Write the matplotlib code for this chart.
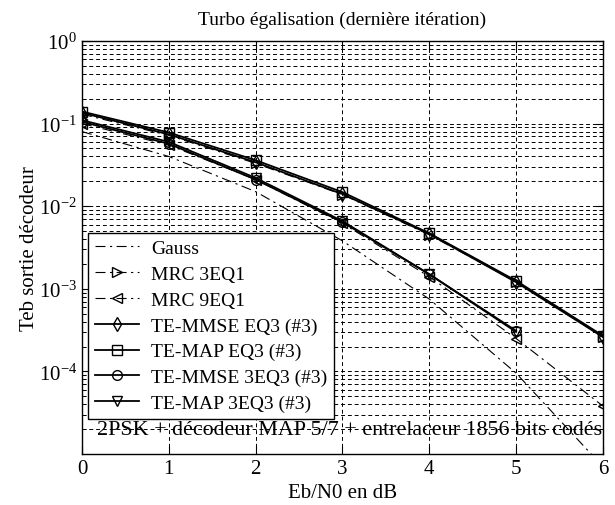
import matplotlib
matplotlib.use("Agg")
import matplotlib.pyplot as plt
from matplotlib.ticker import LogLocator, NullFormatter

plt.rcParams['font.family'] = ['Liberation Serif', 'DejaVu Serif']
plt.rcParams['mathtext.fontset'] = 'custom'
plt.rcParams['mathtext.rm'] = 'Liberation Serif'

# Eb/N0 (dB)
snr = [0, 1, 2, 3, 4, 5, 6]
snr5 = [0, 1, 2, 3, 4, 5]

# BER values
gauss = [0.08, 0.04, 0.015, 3.8e-3, 7.5e-4, 9.5e-5, 7e-6]
mrc_3eq1 = [0.13, 0.072, 0.033, 0.0138, 0.0045, 0.00122, 0.00026]
mrc_9eq1 = [0.1, 0.055, 0.021, 0.0062, 0.0014, 0.00025, 3.8e-5]
te_mmse_eq3 = [0.135, 0.074, 0.034, 0.014, 0.0046, 0.0012, 0.00026]
te_map_eq3 = [0.14, 0.078, 0.036, 0.0148, 0.0047, 0.00125, 0.00027]
te_mmse_3eq3 = [0.105, 0.057, 0.021, 0.0064, 0.0015, 0.00031]
te_map_3eq3 = [0.11, 0.06, 0.022, 0.0066, 0.0015, 0.0003]

labels = ["Gauss", "MRC 3EQ1", "MRC 9EQ1", "TE-MMSE EQ3 (#3)",
          "TE-MAP EQ3 (#3)", "TE-MMSE 3EQ3 (#3)", "TE-MAP 3EQ3 (#3)"]

fig = plt.figure(figsize=(6.15, 5.06), dpi=100)
ax = fig.add_axes([0.1333, 0.1008, 0.8472, 0.8162])

dashdot = (0, (9, 4, 2, 4))
common = dict(color='black', markerfacecolor='none', markersize=7, markeredgewidth=1.0)

ax.plot(snr, gauss, linestyle=dashdot, linewidth=0.8, color='black', label=labels[0])
ax.plot(snr, mrc_3eq1, linestyle=dashdot, linewidth=0.8, marker='>', label=labels[1], **common)
ax.plot(snr, mrc_9eq1, linestyle=dashdot, linewidth=0.8, marker='<', label=labels[2], **common)
ax.plot(snr, te_mmse_eq3, linestyle='-', linewidth=1.3, marker='d', label=labels[3], **common)
ax.plot(snr, te_map_eq3, linestyle='-', linewidth=1.3, marker='s', label=labels[4], **common)
ax.plot(snr5, te_mmse_3eq3, linestyle='-', linewidth=1.3, marker='o', label=labels[5], **common)
ax.plot(snr5, te_map_3eq3, linestyle='-', linewidth=1.3, marker='v', label=labels[6], **common)

ax.set_yscale('log')
ax.set_xlim(0, 6)
ax.set_ylim(1e-5, 1)
ax.set_xticks(snr)
ax.set_yticks([1e-4, 1e-3, 1e-2, 1e-1, 1])
ax.set_yticklabels([r'$\mathregular{10^{-4}}$', r'$\mathregular{10^{-3}}$',
                    r'$\mathregular{10^{-2}}$', r'$\mathregular{10^{-1}}$',
                    r'$\mathregular{10^{0}}$'])
ax.yaxis.set_minor_locator(LogLocator(base=10, subs=range(2, 10), numticks=20))
ax.yaxis.set_minor_formatter(NullFormatter())

ax.grid(True, which='major', axis='both', color='black', linestyle=(0, (4, 3)), linewidth=0.7)
ax.grid(True, which='minor', axis='y', color='black', linestyle=(0, (4, 3)), linewidth=0.7)
ax.tick_params(which='both', direction='in', top=True, right=True, labelsize=15)
ax.tick_params(which='major', length=6)
ax.tick_params(which='minor', length=3)
for s in ax.spines.values():
    s.set_linewidth(1.0)

ax.set_title("Turbo égalisation (dernière itération)", fontsize=14, pad=12)
ax.set_xlabel("Eb/N0 en dB", fontsize=15)
ax.set_ylabel("Teb sortie décodeur", fontsize=15)
ax.yaxis.set_label_coords(-0.083, 0.5)

ax.text(0.17, 2e-5, "2PSK + décodeur MAP 5/7 + entrelaceur 1856 bits codés",
        fontsize=15.8, va='center', ha='left')

leg = ax.legend(loc='lower left', bbox_to_anchor=(0.0115, 0.085), fontsize=14,
                frameon=True, fancybox=False, framealpha=1, edgecolor='black',
                borderaxespad=0, handlelength=2.3, borderpad=0.35, labelspacing=0.42,
                handletextpad=0.6, numpoints=1)
leg.get_frame().set_linewidth(1.0)

fig.savefig("out.png", dpi=100)
